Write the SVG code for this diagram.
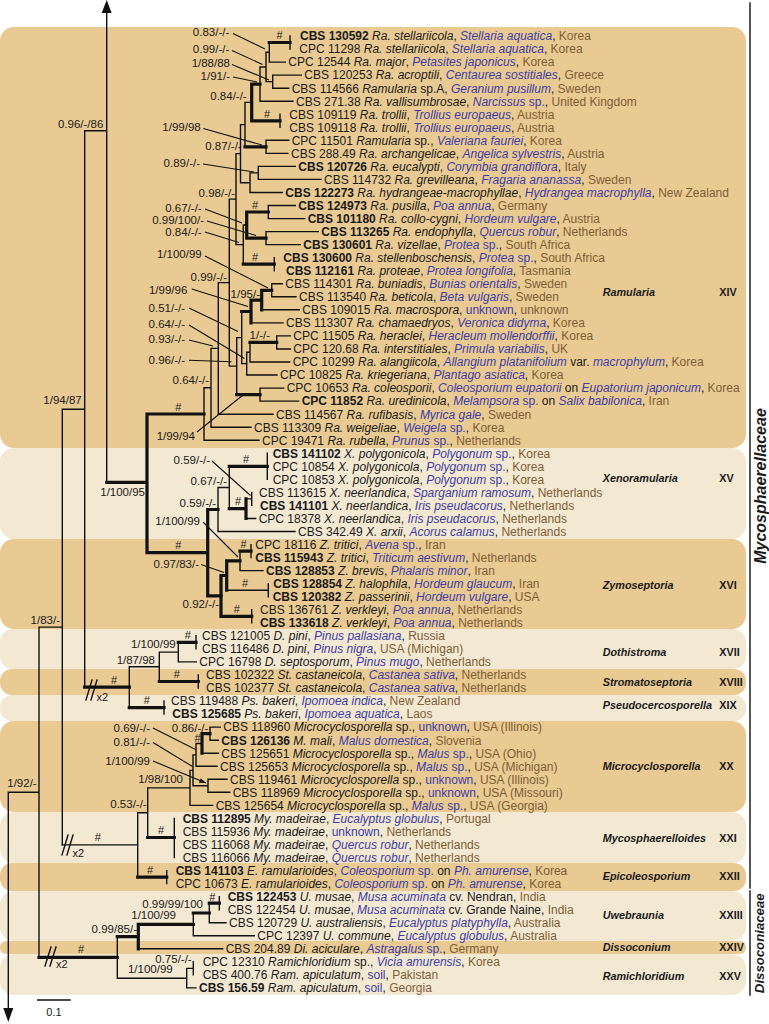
<svg xmlns="http://www.w3.org/2000/svg" width="769" height="1024" viewBox="0 0 769 1024">
<defs>
<marker id="ah" viewBox="0 0 8 6" refX="8" refY="3" markerWidth="7" markerHeight="5" markerUnits="userSpaceOnUse" orient="auto"><path d="M0,0 L8,3 L0,6 z" fill="#111"/></marker>
<style>
.dk{fill:#e9ca92}.lt{fill:#f3e8d2}
text{font-family:"Liberation Sans",Arial,sans-serif;fill:#1a1a1a}
.L{font-size:12px}
.b{font-weight:700}.i{font-style:italic}.h{fill:#3d3da8}.c{fill:#7f5e35}
.s{font-size:11.5px;text-anchor:end}
.hs{font-size:11px;text-anchor:middle}
.cl{font-size:10.8px;font-weight:700;font-style:italic}
.rn{font-size:10.8px;font-weight:700}
.fam{font-weight:700;font-style:italic;text-anchor:middle}
.tn{fill:none;stroke:#111;stroke-width:1.4;stroke-linecap:square}
.tk{fill:none;stroke:#111;stroke-width:3.2;stroke-linecap:square}
.ar{fill:none;stroke:#111;stroke-width:1.1;marker-end:url(#ah)}
</style>
</defs>
<rect width="769" height="1024" fill="#fff"/>
<g id="bands">
<rect class="dk" x="0" y="27" width="746" height="421" rx="14"/>
<rect class="lt" x="0" y="448" width="746" height="91" rx="14"/>
<rect class="dk" x="0" y="539" width="746" height="90" rx="14"/>
<rect class="lt" x="0" y="629" width="746" height="40" rx="13"/>
<rect class="dk" x="0" y="669" width="746" height="26" rx="12"/>
<rect class="lt" x="0" y="695" width="746" height="26" rx="12"/>
<rect class="dk" x="0" y="721" width="746" height="91" rx="14"/>
<rect class="lt" x="0" y="812" width="746" height="51" rx="14"/>
<rect class="dk" x="0" y="863" width="746" height="28" rx="12"/>
<rect class="lt" x="0" y="891" width="746" height="50" rx="14"/>
<rect class="dk" x="0" y="941" width="746" height="13" rx="6"/>
<rect class="lt" x="0" y="954" width="746" height="41" rx="14"/>
</g>
<g id="connectors">
<path class="tn" d="M84.7 130.7H106.7M106.7 12V482.3M84.7 130.7V687.2M62.3 409.3H84.7M62.3 409.3V844.9M39 627.1H62.3M39 627.1V957.4M8.3 792.3H39M8.3 792.3V1010"/>
<path class="tk" d="M106.7 482.3H147M147 414V552.7M147 414H204M147 552.7H207.7M207.7 509.5V595.9M207.7 509.5H218M207.7 595.9H221"/>
<path class="tn" d="M290 36V49M269.3 62.1H285.3M269.3 42.5V62.1M272.7 75.1H301.3M272.7 88.2H288.7M272.7 75.1V88.2M266 52.3V81.6M266 52.3H269.3M266 81.6H272.7M260 67V101.2M260 67H266M260 101.2H293M280 114.2V127.3M266 140.3V153.4M266 140.3H288.7M266 153.4H288M245 102.4V146.8M245 102.4H251.7M258.3 166.4V179.4M258.3 166.4H295.3M258.3 179.4H321M250 172.9V192.5M250 172.9H258.3M250 192.5H282.3M240.5 124.6V182.7M240.5 124.6H245M240.5 182.7H250M268.3 205.5V218.6M268.3 205.5H295.3M268.3 218.6H304.7M266 231.6V244.6M266 231.6H318.3M266 244.6H300.3M274.3 257.7V270.7M243.3 225V264.2M243.3 225H246.7M236 153.6V244.6M236 153.6H240.5M236 244.6H243.3M271.7 283.8V296.8M271.7 283.8H282.3M271.7 296.8H296M261.7 309.8H299.3M251 322.9H283M276.7 335.9V349M276.7 335.9H290.3M276.7 349H290.3M250 342.4V362M250 362H289.7M246.7 352.2V375M246.7 352.2H250M246.7 375H277M241.7 311.5V363.6M241.7 363.6H246.7M260 388.1V401.1M260 388.1H283.7M260 401.1H298.7M236.7 337.6V394.6M236.7 337.6H241.7M229.3 199.1V366.1M229.3 199.1H236M229.3 366.1H236.7M218.3 282.6V414.2M218.3 282.6H229.3M218.3 414.2H273M211 348.4V427.2M211 348.4H218.3M211 427.2H251M204 387.8V440.2M204 387.8H211M204 440.2H259"/>
<path class="tk" d="M269.3 42.5H290M251.7 84.1H260M251.7 84.1V120.8M251.7 120.8H280M245 146.8H266M246.7 212H268.3M246.7 238.1H266M246.7 212V238.1M243.3 264.2H274.3M261.7 290.3H271.7M261.7 290.3V309.8M251 300.1H261.7M251 300.1V322.9M241.7 311.5H251M250 342.4H276.7M236.7 394.6H260"/>
<path class="tn" d="M267.3 453.3V479.4M251.7 492.4V505.4M246 498.9H251.7M246 518.5H255.7M229.3 466.3V508.7M218 487.5V531.5M218 487.5H229.3M218 531.5H295M251 544.6V557.6M240 551.1V570.6M240 570.6H263M268.3 583.7V596.7M226.7 590.2H268.3M251.7 609.8V622.8"/>
<path class="tk" d="M229.3 466.3H267.3M246 498.9V518.5M229.3 508.7H246M240 551.1H251M226.7 560.9H240M226.7 560.9V590.2M221 575.5H226.7M221 575.5V616.3M221 616.3H251.7"/>
<path class="tk" d="M84.7 687.2H129.3M129.3 707.6H164M159.3 681.5H198.3M178.3 642.3H196"/>
<path class="tn" d="M129.3 666.8V707.6M164 701V714.1M159.3 652.1V681.5M129.3 666.8H159.3M198.3 675V688M178.3 642.3V661.9M159.3 652.1H178.3M178.3 661.9H196.3M196 635.8V648.9"/>
<path class="tn" d="M210 727.1V740.2M210 727.1H220.3M210 740.2H218.3M202 753.2H218.3M196 743.5V766.2M196 743.5H202M196 766.2H217M208 779.3V792.3M208 779.3H227M208 792.3H229.7M193 754.9V785.8M193 754.9H196M193 785.8H208M190 770.4V805.4M190 770.4H193M190 805.4H212.7M147.7 787.9V837.5M147.7 787.9H190M174.3 818.4V857.5M137.7 812.7V877.1M137.7 812.7H147.7M166.7 870.6V883.6M62.3 844.9H137.7"/>
<path class="tk" d="M202 733.7V753.2M202 733.7H210M147.7 837.5H174.3M137.7 877.1H166.7"/>
<path class="tn" d="M219.3 896.6V909.7M209.3 903.2V922.7M209.3 922.7H226M193.3 913V935.8M193.3 935.8H254.3M138.3 948.8H222.7M193.3 961.8V974.9M186.7 968.4V987.9M186.7 968.4H193.3M186.7 987.9H196M117.3 978.2H186.7M117.3 936.6V978.2"/>
<path class="tk" d="M209.3 903.2H219.3M193.3 913H209.3M138.3 924.4H193.3M138.3 924.4V948.8M117.3 936.6H138.3M39 957.4H117.3"/>
<polygon points="106.7,0 101.7,13 111.7,13" fill="#111"/>
<polygon points="8.3,1022 3.3,1008 13.3,1008" fill="#111"/>
<path class="tn" d="M86 700L92 680M91 700L97 680M62 855L68 835M67 855L73 835M45 966L51 947M50 966L56 947"/>
<path class="ar" d="M233 33.5L265 49M232 50.5L262.5 64.5M232 64.5L269 80M233 77L257 82M203.3 128.5L262 145M203 164L254 172M205 209L242 223M207 221L256 235.5M205 232L239 242.5M205 256L268 288M191.7 289L248 306.5M189 308L238 331.5M189 325L244.5 358.5M189 340L213 346M189 360.3L231.5 361.7M197 432L243 395M212 461L250.5 495.5M203 522L238 557M201 564.5L224 572.5M153 728L196.5 750M153 742.5L192.5 766.5M153 761L206 783"/>
<path class="tn" d="M750 3V888M750 891V995M37.7 1000H70"/>
</g>
<g id="support">
<text class="s" x="103.3" y="128.3">0.96/-/86</text>
<text class="s" x="81.7" y="404">1/94/87</text>
<text class="s" x="145" y="495.7">1/100/95</text>
<text class="s" x="60" y="624">1/83/-</text>
<text class="s" x="36.7" y="787.3">1/92/-</text>
<text class="s" x="229.3" y="36.3">0.83/-/-</text>
<text class="s" x="229.3" y="53.3">0.99/-/-</text>
<text class="s" x="230" y="67.3">1/88/88</text>
<text class="s" x="230" y="79.7">1/91/-</text>
<text class="s" x="246.7" y="100">0.84/-/-</text>
<text class="s" x="200.7" y="131.3">1/99/98</text>
<text class="s" x="241.7" y="150">0.87/-/-</text>
<text class="s" x="200" y="167.3">0.89/-/-</text>
<text class="s" x="235" y="197">0.98/-/-</text>
<text class="s" x="201.7" y="212.3">0.67/-/-</text>
<text class="s" x="204" y="224">0.99/100/-</text>
<text class="s" x="201.7" y="235.7">0.84/-/-</text>
<text class="s" x="201.7" y="258">1/100/99</text>
<text class="s" x="227" y="281">0.99/-/-</text>
<text class="s" x="260" y="298">1/95/-</text>
<text class="s" x="187.3" y="294">1/99/96</text>
<text class="s" x="185" y="311.7">0.51/-/-</text>
<text class="s" x="185" y="328">0.64/-/-</text>
<text class="s" x="185" y="343.3">0.93/-/-</text>
<text class="s" x="185" y="364">0.96/-/-</text>
<text class="s" x="270" y="339">1/-/-</text>
<text class="s" x="209" y="384">0.64/-/-</text>
<text class="s" x="195" y="440">1/99/94</text>
<text class="s" x="210" y="464">0.59/-/-</text>
<text class="s" x="227" y="485">0.67/-/-</text>
<text class="s" x="216" y="506.5">0.59/-/-</text>
<text class="s" x="200" y="524.7">1/100/99</text>
<text class="s" x="199" y="568.3">0.97/83/-</text>
<text class="s" x="219" y="608">0.92/-/-</text>
<text class="s" x="175.7" y="648">1/100/99</text>
<text class="s" x="155" y="664">1/87/98</text>
<text class="s" x="150" y="731.7">0.69/-/-</text>
<text class="s" x="150" y="746.3">0.81/-/-</text>
<text class="s" x="150" y="764.7">1/100/99</text>
<text class="s" x="208.3" y="731.7">0.86/-/-</text>
<text class="s" x="183" y="783.3">1/98/100</text>
<text class="s" x="146.7" y="808.3">0.53/-/-</text>
<text class="s" x="203" y="908.3">0.99/99/100</text>
<text class="s" x="176" y="919">1/100/99</text>
<text class="s" x="137" y="933">0.99/85/-</text>
<text class="s" x="191.7" y="963.3">0.75/-/-</text>
<text class="s" x="172.7" y="973.3">1/100/99</text>
<text class="hs" x="279.5" y="39">#</text>
<text class="hs" x="267" y="117.5">#</text>
<text class="hs" x="255" y="208.5">#</text>
<text class="hs" x="255" y="260.5">#</text>
<text class="hs" x="178.3" y="410.5">#</text>
<text class="hs" x="246" y="462.5">#</text>
<text class="hs" x="238" y="505">#</text>
<text class="hs" x="178.3" y="549">#</text>
<text class="hs" x="243.5" y="547.5">#</text>
<text class="hs" x="245" y="586.5">#</text>
<text class="hs" x="236.7" y="612.5">#</text>
<text class="hs" x="187.7" y="639">#</text>
<text class="hs" x="114" y="683.5">#</text>
<text class="hs" x="176.7" y="678">#</text>
<text class="hs" x="146.7" y="704">#</text>
<text class="hs" x="197.5" y="742">#</text>
<text class="hs" x="97.7" y="841">#</text>
<text class="hs" x="161" y="834">#</text>
<text class="hs" x="150" y="873.5">#</text>
<text class="hs" x="212.3" y="900.5">#</text>
<text class="hs" x="81" y="952.5">#</text>
<text x="96.5" y="701" font-size="11">x2</text>
<text x="72.5" y="857" font-size="11">x2</text>
<text x="56" y="968" font-size="11">x2</text>
<text x="54" y="1016" font-size="11" text-anchor="middle">0.1</text>
</g>
<g class="L">
<g id="n1"><text x="300" y="40.3"><tspan class="b">CBS 130592</tspan> <tspan class="i">Ra. stellariicola</tspan>, <tspan class="h i">Stellaria aquatica</tspan>, <tspan class="c">Korea</tspan></text></g>
<g id="n2"><text x="299.3" y="53.3">CPC 11298 <tspan class="i">Ra. stellariicola</tspan>, <tspan class="h i">Stellaria aquatica</tspan>, <tspan class="c">Korea</tspan></text></g>
<g id="n3"><text x="288.3" y="66.4">CPC 12544 <tspan class="i">Ra. major</tspan>, <tspan class="h i">Petasites japonicus</tspan>, <tspan class="c">Korea</tspan></text></g>
<g id="n4"><text x="304.3" y="79.4">CBS 120253 <tspan class="i">Ra. acroptili</tspan>, <tspan class="h i">Centaurea sostitiales</tspan>, <tspan class="c">Greece</tspan></text></g>
<g id="n5"><text x="291.7" y="92.5">CBS 114566 <tspan class="i">Ramularia</tspan> sp.A, <tspan class="h i">Geranium pusillum</tspan>, <tspan class="c">Sweden</tspan></text></g>
<g id="n6"><text x="296" y="105.5">CBS 271.38 <tspan class="i">Ra. vallisumbrosae</tspan>, <tspan class="h"><tspan class="i">Narcissus</tspan> sp.</tspan>, <tspan class="c">United Kingdom</tspan></text></g>
<g id="n7"><text x="289.3" y="118.5">CBS 109119 <tspan class="i">Ra. trollii</tspan>, <tspan class="h i">Trollius europaeus</tspan>, <tspan class="c">Austria</tspan></text></g>
<g id="n8"><text x="289.3" y="131.6">CBS 109118 <tspan class="i">Ra. trollii</tspan>, <tspan class="h i">Trollius europaeus</tspan>, <tspan class="c">Austria</tspan></text></g>
<g id="n9"><text x="291.7" y="144.6">CPC 11501 <tspan class="i">Ramularia</tspan> sp., <tspan class="h i">Valeriana fauriei</tspan>, <tspan class="c">Korea</tspan></text></g>
<g id="n10"><text x="291" y="157.7">CBS 288.49 <tspan class="i">Ra. archangelicae</tspan>, <tspan class="h i">Angelica sylvestris</tspan>, <tspan class="c">Austria</tspan></text></g>
<g id="n11"><text x="298.3" y="170.7"><tspan class="b">CBS 120726</tspan> <tspan class="i">Ra. eucalypti</tspan>, <tspan class="h i">Corymbia grandiflora</tspan>, <tspan class="c">Italy</tspan></text></g>
<g id="n12"><text x="324" y="183.7">CBS 114732 <tspan class="i">Ra. grevilleana</tspan>, <tspan class="h i">Fragaria ananassa</tspan>, <tspan class="c">Sweden</tspan></text></g>
<g id="n13"><text x="285.3" y="196.8"><tspan class="b">CBS 122273</tspan> <tspan class="i">Ra. hydrangeae-macrophyllae</tspan>, <tspan class="h i">Hydrangea macrophylla</tspan>, <tspan class="c">New Zealand</tspan></text></g>
<g id="n14"><text x="298.3" y="209.8"><tspan class="b">CBS 124973</tspan> <tspan class="i">Ra. pusilla</tspan>, <tspan class="h i">Poa annua</tspan>, <tspan class="c">Germany</tspan></text></g>
<g id="n15"><text x="307.7" y="222.9"><tspan class="b">CBS 101180</tspan> <tspan class="i">Ra. collo-cygni</tspan>, <tspan class="h i">Hordeum vulgare</tspan>, <tspan class="c">Austria</tspan></text></g>
<g id="n16"><text x="321.3" y="235.9"><tspan class="b">CBS 113265</tspan> <tspan class="i">Ra. endophylla</tspan>, <tspan class="h i">Quercus robur</tspan>, <tspan class="c">Netherlands</tspan></text></g>
<g id="n17"><text x="303.3" y="248.9"><tspan class="b">CBS 130601</tspan> <tspan class="i">Ra. vizellae</tspan>, <tspan class="h"><tspan class="i">Protea</tspan> sp.</tspan>, <tspan class="c">South Africa</tspan></text></g>
<g id="n18"><text x="283.3" y="262"><tspan class="b">CBS 130600</tspan> <tspan class="i">Ra. stellenboschensis</tspan>, <tspan class="h"><tspan class="i">Protea</tspan> sp.</tspan>, <tspan class="c">South Africa</tspan></text></g>
<g id="n19"><text x="286" y="275"><tspan class="b">CBS 112161</tspan> <tspan class="i">Ra. proteae</tspan>, <tspan class="h i">Protea longifolia</tspan>, <tspan class="c">Tasmania</tspan></text></g>
<g id="n20"><text x="285.3" y="288.1">CBS 114301 <tspan class="i">Ra. buniadis</tspan>, <tspan class="h i">Bunias orientalis</tspan>, <tspan class="c">Sweden</tspan></text></g>
<g id="n21"><text x="299" y="301.1">CBS 113540 <tspan class="i">Ra. beticola</tspan>, <tspan class="h i">Beta vulgaris</tspan>, <tspan class="c">Sweden</tspan></text></g>
<g id="n22"><text x="302.3" y="314.1">CBS 109015 <tspan class="i">Ra. macrospora</tspan>, <tspan class="h">unknown</tspan>, <tspan class="c">unknown</tspan></text></g>
<g id="n23"><text x="286" y="327.2">CBS 113307 <tspan class="i">Ra. chamaedryos</tspan>, <tspan class="h i">Veronica didyma</tspan>, <tspan class="c">Korea</tspan></text></g>
<g id="n24"><text x="293.3" y="340.2">CPC 11505 <tspan class="i">Ra. heraclei</tspan>, <tspan class="h i">Heracleum mollendorffii</tspan>, <tspan class="c">Korea</tspan></text></g>
<g id="n25"><text x="293.3" y="353.3">CPC 120.68 <tspan class="i">Ra. interstitiales</tspan>, <tspan class="h i">Primula variabilis</tspan>, <tspan class="c">UK</tspan></text></g>
<g id="n26"><text x="292.7" y="366.3">CPC 10299 <tspan class="i">Ra. alangiicola</tspan>, <tspan class="h i">Allangium platanifolium</tspan> var. <tspan class="h i">macrophylum</tspan>, <tspan class="c">Korea</tspan></text></g>
<g id="n27"><text x="280" y="379.3">CPC 10825 <tspan class="i">Ra. kriegeriana</tspan>, <tspan class="h i">Plantago asiatica</tspan>, <tspan class="c">Korea</tspan></text></g>
<g id="n28"><text x="286.7" y="392.4">CPC 10653 <tspan class="i">Ra. coleosporii</tspan>, <tspan class="h i">Coleosporium eupatorii</tspan> on <tspan class="h i">Eupatorium japonicum</tspan>, <tspan class="c">Korea</tspan></text></g>
<g id="n29"><text x="301.7" y="405.4"><tspan class="b">CPC 11852</tspan> <tspan class="i">Ra. uredinicola</tspan>, <tspan class="h"><tspan class="i">Melampsora</tspan> sp.</tspan> on <tspan class="h i">Salix babilonica</tspan>, <tspan class="c">Iran</tspan></text></g>
<g id="n30"><text x="276" y="418.5">CBS 114567 <tspan class="i">Ra. rufibasis</tspan>, <tspan class="h i">Myrica gale</tspan>, <tspan class="c">Sweden</tspan></text></g>
<g id="n31"><text x="254" y="431.5">CBS 113309 <tspan class="i">Ra. weigeliae</tspan>, <tspan class="h"><tspan class="i">Weigela</tspan> sp.</tspan>, <tspan class="c">Korea</tspan></text></g>
<g id="n32"><text x="262" y="444.5">CPC 19471 <tspan class="i">Ra. rubella</tspan>, <tspan class="h"><tspan class="i">Prunus</tspan> sp.</tspan>, <tspan class="c">Netherlands</tspan></text></g>
<g id="n33"><text x="272.7" y="457.6"><tspan class="b">CBS 141102</tspan> <tspan class="i">X. polygonicola</tspan>, <tspan class="h"><tspan class="i">Polygonum</tspan> sp.</tspan>, <tspan class="c">Korea</tspan></text></g>
<g id="n34"><text x="272.7" y="470.6">CPC 10854 <tspan class="i">X. polygonicola</tspan>, <tspan class="h"><tspan class="i">Polygonum</tspan> sp.</tspan>, <tspan class="c">Korea</tspan></text></g>
<g id="n35"><text x="272.7" y="483.7">CPC 10853 <tspan class="i">X. polygonicola</tspan>, <tspan class="h"><tspan class="i">Polygonum</tspan> sp.</tspan>, <tspan class="c">Korea</tspan></text></g>
<g id="n36"><text x="259" y="496.7">CBS 113615 <tspan class="i">X. neerlandica</tspan>, <tspan class="h i">Sparganium ramosum</tspan>, <tspan class="c">Netherlands</tspan></text></g>
<g id="n37"><text x="260" y="509.7"><tspan class="b">CBS 141101</tspan> <tspan class="i">X. neerlandica</tspan>, <tspan class="h i">Iris pseudacorus</tspan>, <tspan class="c">Netherlands</tspan></text></g>
<g id="n38"><text x="258.7" y="522.8">CPC 18378 <tspan class="i">X. neerlandica</tspan>, <tspan class="h i">Iris pseudacorus</tspan>, <tspan class="c">Netherlands</tspan></text></g>
<g id="n39"><text x="298" y="535.8">CBS 342.49 <tspan class="i">X. arxii</tspan>, <tspan class="h i">Acorus calamus</tspan>, <tspan class="c">Netherlands</tspan></text></g>
<g id="n40"><text x="255.3" y="548.9">CPC 18116 <tspan class="i">Z. tritici</tspan>, <tspan class="h"><tspan class="i">Avena</tspan> sp.</tspan>, <tspan class="c">Iran</tspan></text></g>
<g id="n41"><text x="255.3" y="561.9"><tspan class="b">CBS 115943</tspan> <tspan class="i">Z. tritici</tspan>, <tspan class="h i">Triticum aestivum</tspan>, <tspan class="c">Netherlands</tspan></text></g>
<g id="n42"><text x="266" y="574.9"><tspan class="b">CBS 128853</tspan> <tspan class="i">Z. brevis</tspan>, <tspan class="h i">Phalaris minor</tspan>, <tspan class="c">Iran</tspan></text></g>
<g id="n43"><text x="273.3" y="588"><tspan class="b">CBS 128854</tspan> <tspan class="i">Z. halophila</tspan>, <tspan class="h i">Hordeum glaucum</tspan>, <tspan class="c">Iran</tspan></text></g>
<g id="n44"><text x="272.7" y="601"><tspan class="b">CBS 120382</tspan> <tspan class="i">Z. passerinii</tspan>, <tspan class="h i">Hordeum vulgare</tspan>, <tspan class="c">USA</tspan></text></g>
<g id="n45"><text x="260" y="614.1">CBS 136761 <tspan class="i">Z. verkleyi</tspan>, <tspan class="h i">Poa annua</tspan>, <tspan class="c">Netherlands</tspan></text></g>
<g id="n46"><text x="260" y="627.1"><tspan class="b">CBS 133618</tspan> <tspan class="i">Z. verkleyi</tspan>, <tspan class="h i">Poa annua</tspan>, <tspan class="c">Netherlands</tspan></text></g>
<g id="n47"><text x="202" y="640.1">CBS 121005 <tspan class="i">D. pini</tspan>, <tspan class="h i">Pinus pallasiana</tspan>, <tspan class="c">Russia</tspan></text></g>
<g id="n48"><text x="202" y="653.2">CBS 116486 <tspan class="i">D. pini</tspan>, <tspan class="h i">Pinus nigra</tspan>, <tspan class="c">USA (Michigan)</tspan></text></g>
<g id="n49"><text x="199.3" y="666.2">CPC 16798 <tspan class="i">D. septosporum</tspan>, <tspan class="h i">Pinus mugo</tspan>, <tspan class="c">Netherlands</tspan></text></g>
<g id="n50"><text x="206" y="679.3">CBS 102322 <tspan class="i">St. castaneicola</tspan>, <tspan class="h i">Castanea sativa</tspan>, <tspan class="c">Netherlands</tspan></text></g>
<g id="n51"><text x="206" y="692.3">CBS 102377 <tspan class="i">St. castaneicola</tspan>, <tspan class="h i">Castanea sativa</tspan>, <tspan class="c">Netherlands</tspan></text></g>
<g id="n52"><text x="171" y="705.3">CBS 119488 <tspan class="i">Ps. bakeri</tspan>, <tspan class="h i">Ipomoea indica</tspan>, <tspan class="c">New Zealand</tspan></text></g>
<g id="n53"><text x="172.3" y="718.4"><tspan class="b">CBS 125685</tspan> <tspan class="i">Ps. bakeri</tspan>, <tspan class="h i">Ipomoea aquatica</tspan>, <tspan class="c">Laos</tspan></text></g>
<g id="n54"><text x="223.3" y="731.4">CBS 118960 <tspan class="i">Microcyclosporella</tspan> sp., <tspan class="h">unknown</tspan>, <tspan class="c">USA (Illinois)</tspan></text></g>
<g id="n55"><text x="221.3" y="744.5"><tspan class="b">CBS 126136</tspan> <tspan class="i">M. mali</tspan>, <tspan class="h i">Malus domestica</tspan>, <tspan class="c">Slovenia</tspan></text></g>
<g id="n56"><text x="221.3" y="757.5">CBS 125651 <tspan class="i">Microcyclosporella</tspan> sp., <tspan class="h"><tspan class="i">Malus</tspan> sp.</tspan>, <tspan class="c">USA (Ohio)</tspan></text></g>
<g id="n57"><text x="220" y="770.5">CBS 125653 <tspan class="i">Microcyclosporella</tspan> sp., <tspan class="h"><tspan class="i">Malus</tspan> sp.</tspan>, <tspan class="c">USA (Michigan)</tspan></text></g>
<g id="n58"><text x="230" y="783.6">CBS 119461 <tspan class="i">Microcyclosporella</tspan> sp., <tspan class="h">unknown</tspan>, <tspan class="c">USA (Illinois)</tspan></text></g>
<g id="n59"><text x="232.7" y="796.6">CBS 118969 <tspan class="i">Microcyclosporella</tspan> sp., <tspan class="h">unknown</tspan>, <tspan class="c">USA (Missouri)</tspan></text></g>
<g id="n60"><text x="215.7" y="809.7">CBS 125654 <tspan class="i">Microcyclosporella</tspan> sp., <tspan class="h"><tspan class="i">Malus</tspan> sp.</tspan>, <tspan class="c">USA (Georgia)</tspan></text></g>
<g id="n61"><text x="182.7" y="822.7"><tspan class="b">CBS 112895</tspan> <tspan class="i">My. madeirae</tspan>, <tspan class="h i">Eucalyptus globulus</tspan>, <tspan class="c">Portugal</tspan></text></g>
<g id="n62"><text x="182.7" y="835.7">CBS 115936 <tspan class="i">My. madeirae</tspan>, <tspan class="h">unknown</tspan>, <tspan class="c">Netherlands</tspan></text></g>
<g id="n63"><text x="182.7" y="848.8">CBS 116068 <tspan class="i">My. madeirae</tspan>, <tspan class="h i">Quercus robur</tspan>, <tspan class="c">Netherlands</tspan></text></g>
<g id="n64"><text x="182.7" y="861.8">CBS 116066 <tspan class="i">My. madeirae</tspan>, <tspan class="h i">Quercus robur</tspan>, <tspan class="c">Netherlands</tspan></text></g>
<g id="n65"><text x="175.7" y="874.9"><tspan class="b">CBS 141103</tspan> <tspan class="i">E. ramularioides</tspan>, <tspan class="h"><tspan class="i">Coleosporium</tspan> sp.</tspan> on <tspan class="h i">Ph. amurense</tspan>, <tspan class="c">Korea</tspan></text></g>
<g id="n66"><text x="175.7" y="887.9">CPC 10673 <tspan class="i">E. ramularioides</tspan>, <tspan class="h"><tspan class="i">Coleosporium</tspan> sp.</tspan> on <tspan class="h i">Ph. amurense</tspan>, <tspan class="c">Korea</tspan></text></g>
<g id="n67"><text x="227.7" y="900.9"><tspan class="b">CBS 122453</tspan> <tspan class="i">U. musae</tspan>, <tspan class="h i">Musa acuminata</tspan> cv. Nendran, <tspan class="c">India</tspan></text></g>
<g id="n68"><text x="227.7" y="914">CBS 122454 <tspan class="i">U. musae</tspan>, <tspan class="h i">Musa acuminata</tspan> cv. Grande Naine, <tspan class="c">India</tspan></text></g>
<g id="n69"><text x="229" y="927">CBS 120729 <tspan class="i">U. australiensis</tspan>, <tspan class="h i">Eucalyptus platyphylla</tspan>, <tspan class="c">Australia</tspan></text></g>
<g id="n70"><text x="257.3" y="940.1">CPC 12397 <tspan class="i">U. commune</tspan>, <tspan class="h i">Eucalyptus globulus</tspan>, <tspan class="c">Australia</tspan></text></g>
<g id="n71"><text x="225.7" y="953.1">CBS 204.89 <tspan class="i">Di. aciculare</tspan>, <tspan class="h"><tspan class="i">Astragalus</tspan> sp.</tspan>, <tspan class="c">Germany</tspan></text></g>
<g id="n72"><text x="202.7" y="966.1">CPC 12310 <tspan class="i">Ramichloridium</tspan> sp., <tspan class="h i">Vicia amurensis</tspan>, <tspan class="c">Korea</tspan></text></g>
<g id="n73"><text x="202.7" y="979.2">CBS 400.76 <tspan class="i">Ram. apiculatum</tspan>, <tspan class="h">soil</tspan>, <tspan class="c">Pakistan</tspan></text></g>
<g id="n74"><text x="199" y="992.2"><tspan class="b">CBS 156.59</tspan> <tspan class="i">Ram. apiculatum</tspan>, <tspan class="h">soil</tspan>, <tspan class="c">Georgia</tspan></text></g>
</g>
<g id="clades">
<g id="c14"><text class="cl" x="602.7" y="295.5">Ramularia</text><text class="rn" x="719.3" y="295.5">XIV</text></g>
<g id="c15"><text class="cl" x="602.7" y="482">Xenoramularia</text><text class="rn" x="719.3" y="482">XV</text></g>
<g id="c16"><text class="cl" x="602.7" y="589">Zymoseptoria</text><text class="rn" x="719.3" y="589">XVI</text></g>
<g id="c17"><text class="cl" x="602.7" y="655.5">Dothistroma</text><text class="rn" x="719.3" y="655.5">XVII</text></g>
<g id="c18"><text class="cl" x="602.7" y="685.5">Stromatoseptoria</text><text class="rn" x="719.3" y="685.5">XVIII</text></g>
<g id="c19"><text class="cl" x="602.7" y="708.8">Pseudocercosporella</text><text class="rn" x="719.3" y="708.8">XIX</text></g>
<g id="c20"><text class="cl" x="602.7" y="769.5">Microcyclosporella</text><text class="rn" x="719.3" y="769.5">XX</text></g>
<g id="c21"><text class="cl" x="602.7" y="842">Mycosphaerelloides</text><text class="rn" x="719.3" y="842">XXI</text></g>
<g id="c22"><text class="cl" x="602.7" y="879.8">Epicoleosporium</text><text class="rn" x="719.3" y="879.8">XXII</text></g>
<g id="c23"><text class="cl" x="602.7" y="918.8">Uwebraunia</text><text class="rn" x="719.3" y="918.8">XXIII</text></g>
<g id="c24"><text class="cl" x="602.7" y="950.5">Dissoconium</text><text class="rn" x="719.3" y="950.5">XXIV</text></g>
<g id="c25"><text class="cl" x="602.7" y="979.8">Ramichloridium</text><text class="rn" x="719.3" y="979.8">XXV</text></g>
</g>
<g id="families">
<text class="fam" font-size="16" transform="translate(766 486) rotate(-90)">Mycosphaerellaceae</text>
<text class="fam" font-size="13.2" transform="translate(764 943.3) rotate(-90)">Dissoconiaceae</text>
</g>
</svg>
